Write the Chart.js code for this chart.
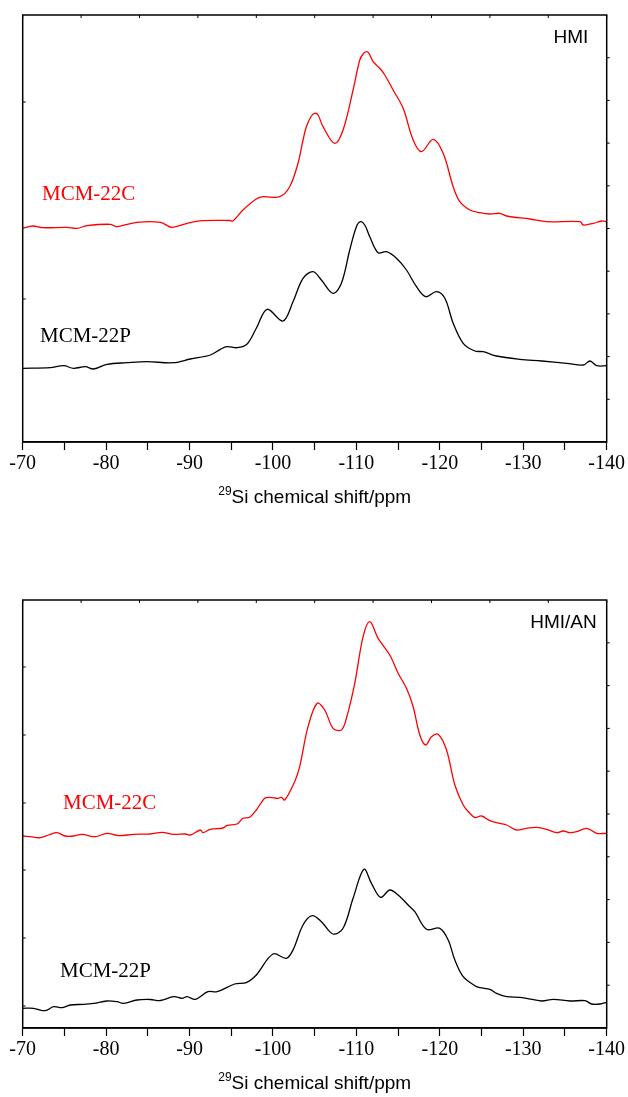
<!DOCTYPE html>
<html>
<head>
<meta charset="utf-8">
<script src="https://cdn.jsdelivr.net/npm/chart.js@4.4.1/dist/chart.umd.min.js"></script>
<style>
  body { margin: 0; background: #fff; width: 628px; height: 1097px; position: relative; overflow: hidden; }
  .wrap { position: absolute; left: 0; width: 628px; height: 500px; }
  .lbl { position: absolute; white-space: nowrap; line-height: 1; }
  .serif { font-family: "Liberation Serif", "Times New Roman", serif; font-size: 21px; }
  .sans { font-family: "Liberation Sans", Arial, sans-serif; font-size: 19px; color: #000; }
  .title { left: 22.7px; width: 584px; text-align: center; }
  .title sup { font-size: 12px; vertical-align: 8px; line-height: 0; }
</style>
</head>
<body>
<div class="wrap" style="top:0"><canvas id="hmi"></canvas></div>
<div class="wrap" style="top:585px"><canvas id="hmian"></canvas></div>

<div class="lbl sans" style="top:27px;right:39.7px">HMI</div>
<div class="lbl serif" style="top:182.5px;left:42px;color:#ff0000">MCM-22C</div>
<div class="lbl serif" style="top:324.5px;left:40px;color:#000">MCM-22P</div>
<div class="lbl sans title" style="top:487px"><sup>29</sup>Si chemical shift/ppm</div>

<div class="lbl sans" style="top:612.4px;right:31.3px">HMI/AN</div>
<div class="lbl serif" style="top:792px;left:63px;color:#ff0000">MCM-22C</div>
<div class="lbl serif" style="top:959.5px;left:60px;color:#000">MCM-22P</div>
<div class="lbl sans title" style="top:1073px"><sup>29</sup>Si chemical shift/ppm</div>

<script>
// x axis: 29Si chemical shift (ppm), drawn high -> low
const shiftMin = -140;
const shiftMax = -70;
const topTicks = [-70, -77, -84, -91, -98, -105, -112, -119, -126, -133, -140];

// HMI panel, intensity in arbitrary units (0 = bottom of frame)
const hmiMax = 427;
const hmiLeftTicks = [143, 340];
const hmiC_ppm = [-70, -71.2, -72.4, -75.3, -76.5, -77.7, -80.5, -81.3, -83.7, -86.5, -87.9, -89.7, -91.6, -94.8, -95.2, -96.4, -98.0, -98.8, -100.8, -102.0, -103.0, -103.6, -104.0, -104.6, -105.0, -105.4, -106.0, -107.4, -108.4, -109.6, -110.4, -110.8, -111.2, -111.5, -112.0, -112.8, -113.4, -114.4, -115.6, -116.8, -117.8, -119.2, -120.4, -121.6, -122.4, -123.6, -124.8, -126.0, -127.2, -128.0, -130.8, -132.8, -136.8, -137.2, -138.4, -139.4, -140];
const hmiC_int = [213.7, 216, 214.3, 214.7, 213.7, 216.3, 217.7, 215.3, 219.7, 219.7, 214.7, 218.7, 221.3, 221.5, 221, 232, 243, 245.3, 245.3, 255.3, 278.7, 302, 315.3, 326, 328.7, 327, 315.3, 298.7, 312, 352, 382, 388, 390.3, 388.7, 380.3, 373.7, 367, 352, 333.7, 302, 290.3, 302.7, 288.7, 255.3, 240.3, 232, 229.3, 228, 228.7, 226, 223, 220.3, 220.3, 217, 218.7, 221, 220.3];
const hmiP_ppm = [-70, -73.3, -74.9, -76.1, -77.5, -78.5, -80.1, -82.5, -84.9, -88.1, -90.1, -92.5, -93.7, -94.5, -95.7, -96.9, -98.0, -99.3, -101.2, -102.4, -103.6, -104.8, -105.8, -107.2, -108.2, -109.2, -110.0, -110.5, -111.0, -111.6, -112.6, -113.6, -114.8, -116.0, -117.2, -118.3, -119.6, -120.6, -121.6, -122.8, -124.2, -125.2, -126.8, -129.6, -132.2, -135.2, -137.2, -138.0, -138.8, -140];
const hmiP_int = [73.7, 74.3, 76.3, 73.7, 75.3, 73, 77.7, 79.3, 80.3, 79.3, 83, 87, 92.7, 95.3, 94.3, 98, 113.7, 132.7, 121, 140.3, 163.7, 170.3, 162, 148.7, 158.7, 192, 215.3, 220.3, 217, 205.3, 189.3, 190.3, 183.7, 172, 155.3, 145.3, 150.3, 143.7, 118.7, 98.7, 91, 90.3, 86, 82.7, 81, 78.7, 77, 81, 76.3, 76.3];

// HMI/AN panel
const anMax = 428;
const anLeftTicks = [22, 90, 158, 225, 293, 361];
const anC_ppm = [-70, -70.9, -72.1, -73.1, -74.1, -75.1, -76.1, -77.1, -78.7, -80.1, -81.5, -83.3, -85.3, -86.7, -88.1, -89.5, -90.1, -91.3, -91.6, -92.5, -94.0, -94.5, -95.7, -96.4, -97.2, -98.0, -99.0, -99.6, -100.6, -101.0, -101.4, -102.6, -103.2, -104.2, -105.3, -106.2, -107.2, -108.2, -108.8, -109.8, -110.8, -111.6, -112.6, -114.0, -115.0, -116.0, -116.8, -117.6, -118.3, -119.0, -119.8, -120.8, -121.8, -122.8, -123.6, -124.2, -125.0, -126.0, -127.2, -128.0, -129.2, -130.4, -131.6, -132.8, -134.0, -134.8, -135.6, -136.4, -137.6, -138.8, -140];
const anC_int = [192, 191.3, 190.3, 193, 195.3, 192, 192, 193.7, 191.3, 194.7, 192.3, 193.7, 194, 195.7, 193.7, 194, 193, 198, 195.3, 198.7, 200, 202.7, 204, 209.7, 210.7, 218, 229.7, 230.7, 229.7, 230.7, 228, 246.3, 261.3, 301.3, 324.7, 318, 299.7, 298, 309.7, 344.7, 391.3, 406.3, 389.7, 373, 354.7, 339.7, 321.3, 293, 283, 291.3, 293.7, 278, 243, 223, 214.7, 210.5, 212, 207.3, 204.7, 203, 198, 199.7, 200.7, 198.7, 195.3, 197, 195.3, 196.3, 199.7, 194.7, 194.7];
const anP_ppm = [-70, -71.3, -72.7, -73.7, -74.7, -75.7, -77.3, -78.5, -80.1, -81.3, -82.1, -83.7, -85.3, -86.5, -88.1, -89.1, -89.7, -90.7, -92.2, -93.3, -95.4, -96.8, -98.0, -100.0, -101.6, -102.4, -103.6, -104.7, -105.8, -107.2, -108.4, -109.6, -110.9, -111.8, -112.9, -114.0, -115.0, -116.2, -117.0, -118.4, -120.0, -121.0, -121.8, -122.8, -124.2, -124.8, -126.0, -126.8, -128.0, -129.6, -130.4, -132.2, -133.6, -135.6, -137.4, -138.2, -139.2, -140];
const anP_int = [19.7, 19.7, 17.3, 21.3, 20.3, 23, 23.7, 24.7, 27, 26.3, 24.7, 28, 28.5, 27.5, 31.3, 29.7, 31.3, 28.7, 36.3, 36.3, 44, 45.3, 53, 74, 69.7, 78, 103, 112.3, 106.3, 94, 99.7, 129.7, 158.7, 144.7, 130.7, 138, 133, 123, 116.3, 98.7, 99.7, 88, 68, 51.3, 42.3, 40.3, 38.7, 34.7, 31.3, 30.7, 29.7, 27, 28.7, 27, 27.3, 24, 24, 25.7];

function pts(xs, ys) {
  return xs.map((x, i) => ({ x: x, y: ys[i] }));
}

// box around the plot with small ticks on top, left and right
const frame = {
  id: "frame",
  afterDraw(chart, args, opts) {
    const { ctx, chartArea: a, scales } = chart;
    const x = scales.x, y = scales.y;
    ctx.save();
    ctx.strokeStyle = "#000";
    ctx.lineWidth = 1.5;
    ctx.strokeRect(a.left, a.top, a.right - a.left, a.bottom - a.top);
    ctx.lineWidth = 1;
    ctx.beginPath();
    opts.top.forEach(v => {
      const px = x.getPixelForValue(v);
      ctx.moveTo(px, a.top); ctx.lineTo(px, a.top + 3);
    });
    opts.left.forEach(v => {
      const py = y.getPixelForValue(v);
      ctx.moveTo(a.left, py); ctx.lineTo(a.left + 3, py);
    });
    for (let k = 1; k < 10; k++) {
      const py = y.getPixelForValue(opts.max * k / 10);
      ctx.moveTo(a.right, py); ctx.lineTo(a.right + 3, py);
    }
    ctx.stroke();
    ctx.restore();
  }
};

function makeChart(id, red, black, yMax, leftTicks, bottomPad) {
  const ctx = document.getElementById(id).getContext("2d");
  return new Chart(ctx, {
    type: "line",
    data: {
      datasets: [
        { label: "MCM-22C", data: red, borderColor: "#ff0000", borderWidth: 1.3, pointRadius: 0, tension: 0.35, fill: false },
        { label: "MCM-22P", data: black, borderColor: "#000000", borderWidth: 1.3, pointRadius: 0, tension: 0.35, fill: false }
      ]
    },
    options: {
      responsive: true,
      maintainAspectRatio: false,
      animation: false,
      layout: { padding: { left: 22.7, right: 21.3, top: 15, bottom: 0 } },
      scales: {
        x: {
          type: "linear",
          min: shiftMin,
          max: shiftMax,
          reverse: true,
          afterFit: function(scale) { scale.height = bottomPad; },
          border: { display: true, color: "#000", width: 1.5 },
          grid: { display: true, drawOnChartArea: false, drawTicks: true, tickLength: 8, tickColor: "#000", tickWidth: 1.2 },
          ticks: {
            stepSize: 5,
            autoSkip: false,
            maxRotation: 0,
            padding: 2,
            color: "#000",
            font: { family: "'Liberation Serif', 'Times New Roman', serif", size: 20 },
            callback: function(value) {
              return value % 10 === 0 ? String(value) : "";
            }
          }
        },
        y: { display: false, min: 0, max: yMax }
      },
      plugins: {
        legend: { display: false },
        tooltip: { enabled: false },
        frame: { top: topTicks, left: leftTicks, max: yMax }
      }
    },
    plugins: [frame]
  });
}

makeChart("hmi", pts(hmiC_ppm, hmiC_int), pts(hmiP_ppm, hmiP_int), hmiMax, hmiLeftTicks, 58);
makeChart("hmian", pts(anC_ppm, anC_int), pts(anP_ppm, anP_int), anMax, anLeftTicks, 57);
</script>
</body>
</html>
